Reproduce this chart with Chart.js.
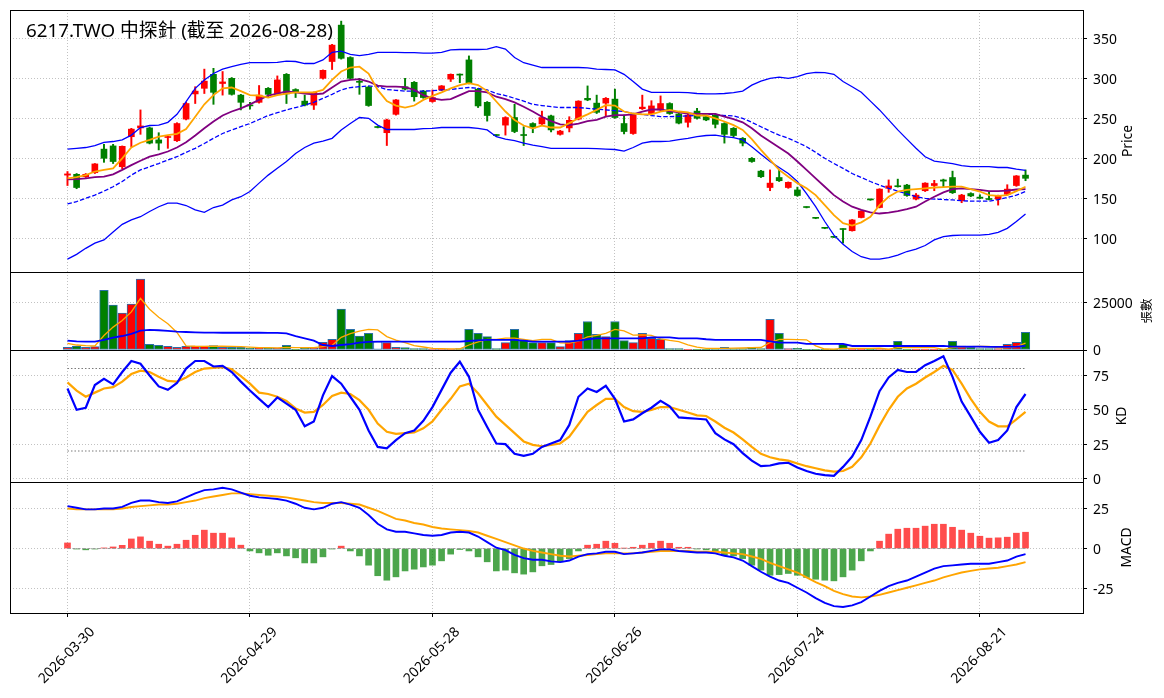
<!DOCTYPE html>
<html><head><meta charset="utf-8">
<script src="https://cdn.jsdelivr.net/npm/chart.js@4.4.1/dist/chart.umd.min.js"></script>
<style>
html,body{margin:0;padding:0;background:#fff;}
#wrap{position:relative;width:1164px;height:698px;background:#fff;}
canvas{position:absolute;left:0;top:0;}
</style></head><body>
<div id="wrap">
<canvas id="cPrice" width="1164" height="698"></canvas>
<canvas id="cVol" width="1164" height="698"></canvas>
<canvas id="cKD" width="1164" height="698"></canvas>
<canvas id="cMACD" width="1164" height="698"></canvas>
</div>
<script>
// ---------------- DATA ----------------
const titleText = '6217.TWO 中探針 (截至 2026-08-28)';
const dates = ['2026-03-30','2026-03-31','2026-04-01','2026-04-02','2026-04-07','2026-04-08','2026-04-09','2026-04-10','2026-04-13','2026-04-14',
'2026-04-15','2026-04-16','2026-04-17','2026-04-20','2026-04-21','2026-04-22','2026-04-23','2026-04-24','2026-04-27','2026-04-28',
'2026-04-29','2026-04-30','2026-05-04','2026-05-05','2026-05-06','2026-05-07','2026-05-08','2026-05-11','2026-05-12','2026-05-13',
'2026-05-14','2026-05-15','2026-05-18','2026-05-19','2026-05-20','2026-05-21','2026-05-22','2026-05-25','2026-05-26','2026-05-27',
'2026-05-28','2026-05-29','2026-06-01','2026-06-02','2026-06-03','2026-06-04','2026-06-05','2026-06-08','2026-06-09','2026-06-10',
'2026-06-11','2026-06-12','2026-06-15','2026-06-16','2026-06-17','2026-06-18','2026-06-22','2026-06-23','2026-06-24','2026-06-25',
'2026-06-26','2026-06-29','2026-06-30','2026-07-01','2026-07-02','2026-07-03','2026-07-06','2026-07-07','2026-07-08','2026-07-09',
'2026-07-10','2026-07-13','2026-07-14','2026-07-15','2026-07-16','2026-07-17','2026-07-20','2026-07-21','2026-07-22','2026-07-23',
'2026-07-24','2026-07-27','2026-07-28','2026-07-29','2026-07-30','2026-07-31','2026-08-03','2026-08-04','2026-08-05','2026-08-06',
'2026-08-07','2026-08-10','2026-08-11','2026-08-12','2026-08-13','2026-08-14','2026-08-17','2026-08-18','2026-08-19','2026-08-20',
'2026-08-21','2026-08-24','2026-08-25','2026-08-26','2026-08-27','2026-08-28'];

const opens = [179,180,177,182,211.5,215.5,189.5,227,238,238,
223,226,222,249,280.5,287.5,305,293.5,300,279,
266.5,270,287.5,281,305,286,271.5,266.5,300,321,
366.5,326,296,289,239.5,232,255,289.5,295,284,
271,285.5,299,305,323,286.5,270,229,241.5,251,
229,243.5,243,253,230,238,249,275,269,269,
274,243.5,231,262,255.5,260.5,268.5,255.5,245,259,
252,254,243.5,237.5,225,200,184,163.5,176,163.5,
160.5,139,125.5,113,101.5,111.5,109.5,126,148.5,138.5,
162.5,165.5,166.5,149,159.5,166,173,176,147,156,
151.5,149,149,155,166,179];
const highs = [183.5,181,181,193.5,217.5,217.5,215.5,237.5,260.5,239,
232,227.5,244.5,270,289.5,311.5,312.5,308.5,301,280,
270,291,288.5,303,306,287,279,283,310.5,342.5,
371.5,327,300,290,240,249,273.5,300,296,285,
285.5,291,305.5,305.5,328,287.5,271,229.5,252,267.5,
239.5,244.5,259,254,235,252,272,290.5,279,276,
286.5,254,255,279,272,278,269.5,256.5,255,262.5,
253,255,244.5,238.5,226,201,185,185.5,185.5,170.5,
164,139.5,126,113.5,102,112,123.5,134.5,149,162,
173,174,167.5,156,169.5,172.5,174,184,155,157,
154.5,158,154,167,178.5,185.5];
const lows = [166,162,176,181,195,193.5,187,214.5,230,218,
210.5,212.5,221,248,268.5,281,267.5,279,279,260.5,
261.5,269,277,280,268.5,276,265.5,261,299,311,
324,299,280,265,238,216,254,285.5,271.5,275,
270,284.5,296,294.5,293,263.5,246.5,228,229,232,
216,232,242,233,229,233,248,272,256,252,
250,230.5,230,261,254.5,259.5,255,243,239,249,
247,238,219,227,215.5,195,176,159.5,171,162.5,
152.5,138,124.5,112,101,94,109,125.5,147.5,138,
157.5,164,152.5,148,158.5,159.5,164.5,156,144.5,152,
149.5,148,141.5,154,165,172];
const closes = [180.5,163.5,180,193,200,196,215,236.5,240.5,219,
219,227,243.5,268.5,284,296.5,282.5,295.5,280,270,
265.5,279,280,298,280.5,282.5,266.5,282.5,310,341.5,
325,300,295,266,238.5,248,273,286.5,277,276,
276,290.5,305,304,294,265.5,253.5,228.5,251,233.5,
228.5,238,251,235.5,234,247.5,271.5,273,257.5,275,
251,233.5,254,264,265.5,268.5,256,244,254,250,
248,242.5,230,228.5,219,196,177,169,172,170,
153.5,138.5,125,112.5,101.25,111,123,134,148,161.5,
165.5,164.5,153.5,154,169,168.5,171.5,157,154,153,
150,148.5,153.5,161.5,178,175];

const ma5 = [175,176.5,179,183.5,185.5,187.5,200,213.5,219.5,223,
227,229,230.5,236.5,252,267.5,279,287.5,288.5,284,
279,278.5,276,279,281,282.5,282.5,282.5,285.5,298,
308.5,313.5,314.5,306,285.5,271.5,266,263.5,266,273,
278,282.5,287.5,291.5,294,291.5,284,271,258.5,248,
241,237.5,241,238.5,238.5,244,250,255,260.5,266.5,
266,258.5,256,255,255,258.5,260.5,258.5,257.5,253.5,
253.5,250,246,241.5,235.5,224,210.5,198,185.5,177,
169,162.5,154,141.5,129,119,116,120,127,141.5,
152,158.5,160.5,161.5,162.5,163.5,164,164.5,164.5,161.5,
158.5,154,153,154,159,164.5];
const ma10 = [173.75,174,175,176.5,177,180,185.5,191.5,197,202,
205,208.5,213.5,220,228.5,237.5,246,253.5,258.5,262.5,
267.5,273,278.5,281,283.5,282.5,281,280,281,288.5,
296,298,299,296,291,289.5,289.5,289,285.5,279,
275,273,274,279,284,284,282.5,277,274,270,
264.5,258.5,252,246.5,242.5,241.5,243.5,246.5,248,252,
254,254,255,258.5,261,261,259,257.5,256,255.5,
255.5,255.5,252,249,245,237.5,228.5,221,213.5,206,
196,185.5,175,164.5,154,146,139.5,135.5,132.5,131,
132,134,136.5,139.5,146,152,157.5,161.5,162.5,161.5,
160.5,159,159,159.5,161,161.5];
const ma20 = [143,146,150,154,159,164.5,171,179,185.5,189.5,
193.5,198,202,207.5,212.5,218.5,225,231,235.5,239.5,
243.5,248.5,253.5,257,260.5,263.5,266.5,270,275,280,
285.5,288.5,289.5,290.5,289.5,286,285,284,284,284,
284.5,285.5,286,287.5,288.5,287.5,285.5,281,278.5,275,
271.5,267.5,266,264.5,263.5,263.5,263.5,262.5,261.5,260.5,
259.5,258.5,256,255,253.5,252,252,252.5,253,253.5,
255,255,253.5,253,250,245,239.5,234,229,225,
220,214.5,207.5,200,193.5,187.5,181,176,171,166.5,
162.5,159,155.5,152,150,149,148.5,148,147,146.5,
146.5,146.5,148.5,151,154,158.5];
const bbUpper = [211.5,212.5,213.5,216,220,221,223,229,238.5,241,
241.5,245,255,271,287.5,298,306,311.5,314.5,317.5,
319.5,319.5,319.5,320,321.5,321,318.5,318.5,323,332.5,
334,330,328.5,330,332.5,332.5,332.5,332,332,331.5,
331.5,332.5,335.5,336,336,336,336.5,339.5,336.5,326,
319.5,316.5,313.5,313.5,313.5,313.5,313.5,313,311.5,311,
310.5,305,296,286.5,282.5,282.5,282.5,282.5,282,281,
280.5,280.5,281,282,284,291.5,296.5,300,301.5,300,
302,306,307.5,307,305,296,289.5,282.5,271.5,260.5,
248,235.5,224,212.5,202,196.5,195,193.5,191,189.5,
189.5,189.5,188.5,188.5,186.5,185];
const bbLower = [74,80,87.5,94,98,108,117.5,123,127,133.5,
139.5,144,144,141,135.5,132.5,138.5,141.5,148,152,
158.5,169,179,187.5,196,206,213.5,219,221.5,225,
235.5,243.5,251,250,241.5,236,236,236,236,237,
237.5,238.5,238.5,238.5,238.5,237.5,235.5,227,224,222,
219,216.5,214.5,212.5,212.5,212.5,212.5,212.5,212,211.5,
211,209,213.5,219,221,221,221.5,223.5,225,227,
228.5,229,227,226,223,214.5,205,196,188.5,181,
171,156,139.5,121,104,92.5,83.5,77,74,74,
76,79,83.5,86.5,91,98,102,103.5,104,104,
104,105,107.5,112.5,121,130.5];

const volumes = [1400,2100,1400,1750,31100,23400,19200,23900,37000,3000,
2450,1900,1400,1900,2100,2100,2270,1400,1400,1400,
1050,1200,1050,1050,2450,350,1050,1050,4000,5600,
21300,10800,7300,8700,4350,3850,1400,1200,700,700,
520,520,520,700,10800,8700,7000,700,3850,10800,
5240,3850,3850,3850,1750,4900,8700,14850,8200,7000,
14850,4900,3850,8700,6100,5600,700,700,175,175,
350,700,1400,700,700,1400,700,16000,8700,700,
870,350,350,350,350,3000,350,350,350,520,
520,4540,350,350,350,350,350,4540,2100,1400,
700,700,700,3000,4000,9260];
const volFlatDays = [34];
const volMa5 = [3500,2600,2270,2100,7550,11950,15370,19870,26920,21300,
17110,13650,9150,2130,1950,1880,1950,1950,1850,1710,
1500,1290,1220,1150,1360,1220,1190,1190,1780,2410,
6600,8550,9800,10740,10490,7000,5120,3900,2300,1570,
900,730,590,590,2610,4250,5540,5580,6210,6210,
5520,4890,5520,5520,3710,3640,4610,6810,7680,8730,
10720,9960,7760,7860,7680,5830,4990,4360,2660,1470,
800,800,900,950,1050,1200,1300,3900,5500,5500,
5390,5320,2190,520,450,880,880,880,880,910,
420,1260,1260,1260,1220,1190,350,1190,1540,1750,
1820,1890,1120,1300,1820,3530];
const volMa20 = [4900,4540,4400,4400,5240,6500,7300,8400,10100,10500,
10300,9960,9600,9400,9200,9100,9100,9000,9000,9000,
9000,9000,8900,8900,8700,7300,6100,4900,2600,2100,
2600,3100,3800,4200,4400,4400,4400,4400,4400,4400,
4400,4400,4400,4400,4700,5070,5240,5240,5240,5240,
4900,4400,4400,4400,4400,4400,4900,5600,6100,6100,
6100,6100,6100,6100,6600,6600,6600,6100,6100,6100,
5600,5240,5240,5240,5240,5240,5240,4540,3850,3850,
3850,3150,3150,3150,3150,3150,2100,2100,2100,2100,
2100,2100,2100,2100,2100,2100,2100,1750,1750,1750,
1750,1600,1600,1600,1750,2100];

const kValues = [65.5,50,51.5,68,72.5,68.5,77.5,85.5,83.5,75,
67,64.5,69.5,80,85.5,85.5,81.5,82,77.5,70.5,
64,58,52,59,54.5,50,38,41.5,60.5,74.5,
69,59.5,50,35,23,22,28,33,35,42,
52,64.5,77,85,74,50,37.5,25.5,25,18,
16.5,18,23,25.5,28,39,59.5,65.5,63,67.5,
58,41.5,43,47.5,51.5,56.5,52.5,44.5,44,43.5,
43,33,28.5,25,18.5,13,9,9.5,11,11.5,
8,5.5,3.5,2.5,2,8.5,16,28,45,63.5,
73.5,79,77.5,77.5,82.5,85.5,89,74,56,45,
34,26,28,35,52,61.5];
const dValues = [70,64,59.5,62.5,65.5,66.5,70.5,76,78.5,77.5,
74,71,70.5,73.5,77.5,80,80.5,81,79.5,74.5,
69,62.5,61.5,59.5,56.5,51,48,48.5,53.5,60,
62.5,61.5,57,50,40,34,32.5,33,33.5,36.5,
41.5,50,58,67,69,62,53.5,45,39,33,
27,24.5,23.5,24.5,25.5,30.5,39.5,48.5,53.5,58,
58,52,49,48.5,50,52,52,50,48,46,
45.5,41.5,37,33.5,28.5,23,18,15.5,14,13,
11,9,7.5,6,5,5.5,8.5,15.5,25.5,38.5,
50,59.5,65.5,69,73.5,77.5,82,79,69,58,
48.5,41.5,38,38,43,48.5];
const kdLevels = [20, 80];

const difValues = [26.5,25.5,24.5,24.5,25,25,26,28.5,30,30,
29,28.5,29.5,32,34.5,36.5,37,38,37,35,
33,32,31.5,31,30,28,25.5,24.5,25.5,28,
29,27.5,25.5,21,15.5,12,10.5,10.5,9.5,8.5,
8,8.5,10,10.5,10,7.5,4,0.5,-1,-4,
-6,-7,-7,-8,-8.5,-7.5,-5,-3.5,-3,-2,
-2,-3.5,-3,-2.5,-1.5,-0.5,-0.5,-1.5,-2,-2.5,
-2.5,-3,-4.5,-5.5,-7.5,-11,-14.5,-17.5,-20,-21.5,
-24.5,-27.5,-31,-34,-36,-36.5,-35.5,-33.5,-30,-26.5,
-23.5,-21.5,-20,-17.5,-15,-12.5,-11,-10.5,-10,-9.5,
-9.5,-9.5,-8.5,-7.5,-5,-3.5];
const deaValues = [25,24.5,24.5,24.5,24.5,24.5,25,26,26.5,27,
27.5,27.5,28,29,30,31.5,32.5,33.5,34.5,34.5,
34,33.5,33,32.5,32,31,30,29,28.5,28.5,
28.5,28,27.5,25.5,23.5,21,18.5,17.5,16,15,
13.5,12.5,12,11.5,11,10,8,6,4,2,
0,-1.5,-2.5,-3.5,-4.5,-5,-4.5,-4,-3.5,-3,
-3,-3,-3,-2.5,-2,-1.5,-1.5,-1.5,-1.5,-2,
-2,-2,-2.5,-3,-3.5,-5,-6.5,-9,-11,-13,
-15,-18,-21,-23.5,-26.5,-28.5,-30,-30.5,-30,-29,
-27.5,-26,-24.5,-23,-21.5,-20,-18,-16.5,-15,-14,
-13,-12.5,-12,-11,-10,-8.5];
const histValues = [3.5,-0.3,-0.8,-0.3,0.4,1,2,6,7.3,4.6,
2.7,1.5,2.7,5.2,8.3,11.5,9.6,9.6,6.7,2.1,
-1.5,-2.7,-4.2,-2.7,-4.6,-5.8,-9,-9,-5.2,-0.3,
1.5,-1.5,-4.6,-10.4,-17,-19.8,-17.7,-14,-12.9,-11.5,
-10.4,-7.7,-3.5,-0.6,-1.5,-5.2,-8.3,-14,-13.5,-15.2,
-16,-14.6,-10.8,-10,-8.3,-6.3,-1.5,2.1,2.7,4.6,
3.3,0.2,0.8,2.1,3.3,4.6,3.3,0.8,0.8,-0.2,
-0.8,-1.7,-4.2,-4.6,-6.3,-10.4,-13.5,-16.7,-16.3,-15.6,
-16.7,-18.1,-19.2,-19.8,-20.2,-17.7,-13.5,-7.7,-1.5,4.6,
9,12.1,12.7,12.7,14,15.2,15.2,13.3,11.5,9.6,
7.7,6.5,6.7,7.1,9.6,10.2];

const xTickIdx = [0, 20, 40, 60, 80, 100];
const priceTicks = [100, 150, 200, 250, 300, 350];
const volTicks = [0, 25000];
const kdTicks = [0, 25, 50, 75];
const macdTicks = [-25, 0, 25];

// ---------------- STYLE / LAYOUT ----------------
const FONT = "'Noto Sans', 'Noto Sans CJK TC', sans-serif";
const GRID = '#c2c2c2';
const X_MIN = -6.3, X_MAX = 111.3;
const AXIS_W = 81;
const UP = '#ff0000', DOWN = '#008000';
const last = dates.length - 1;

function pts(arr){ return arr.map((v,i)=>({x:i, y:v})); }
function levelPts(v){ return [{x:0, y:v}, {x:last, y:v}]; }

function xAxis(bottom){
  return {
    type:'linear', min:X_MIN, max:X_MAX, offset:false,
    afterBuildTicks: s => { s.ticks = xTickIdx.map(v=>({value:v})); },
    grid:{ color:GRID, lineWidth:1, offset:false, drawTicks:bottom, tickLength:4, tickColor:'#000', tickWidth:1, tickBorderDash:[] },
    border:{ display:false, dash:[1,2] },
    ticks:{ display:bottom, autoSkip:false, minRotation:45, maxRotation:45, padding:7, labelOffset:25,
            color:'#000', font:{family:FONT, size:13.9}, callback: v => dates[v] },
    afterFit: s => { s.height = bottom ? 85 : 0; s.paddingLeft = 0; s.paddingRight = 0; s.paddingTop = 0; s.paddingBottom = 0; }
  };
}
function yAxis(min, max, ticks){
  return {
    type:'linear', position:'right', min, max, beginAtZero:false,
    afterBuildTicks: s => { s.ticks = ticks.map(v=>({value:v})); },
    grid:{ color:GRID, lineWidth:1, drawTicks:true, tickLength:4, tickColor:'#000', tickWidth:1, tickBorderDash:[] },
    border:{ display:false, dash:[1,2] },
    ticks:{ padding:6, labelOffset:1.5, color:'#000', font:{family:FONT, size:13.9}, callback: v => String(v) },
    afterFit: s => { s.width = AXIS_W; s.paddingTop = 0; s.paddingBottom = 0; }
  };
}

const panelPlugin = {
  id:'panel',
  afterDatasetsDraw(chart, args, opts){
    const {ctx, chartArea:a} = chart;
    ctx.save();
    ctx.strokeStyle = '#000'; ctx.lineWidth = 1;
    const l = Math.floor(a.left)+0.5, t = Math.floor(a.top)+0.5, r = Math.floor(a.right)+0.5, b = Math.floor(a.bottom)+0.5;
    ctx.strokeRect(l, t, r-l, b-t);
    ctx.restore();
  },
  afterDraw(chart, args, opts){
    const {ctx, chartArea:a} = chart;
    ctx.save();
    ctx.fillStyle = '#000';
    ctx.font = opts.size + 'px ' + FONT;
    ctx.translate(opts.x, (a.top + a.bottom)/2);
    ctx.rotate(-Math.PI/2);
    ctx.textAlign = 'center'; ctx.textBaseline = 'middle';
    ctx.fillText(opts.label, 0, 0);
    ctx.restore();
    if (opts.title){
      ctx.save();
      ctx.fillStyle = '#000';
      ctx.font = '18.8px ' + FONT;
      ctx.textAlign = 'left'; ctx.textBaseline = 'alphabetic';
      ctx.fillText(titleText, 26, 37);
      ctx.restore();
    }
  }
};

function baseOptions(padTop, padBottom, yCfg, bottom, panelOpts){
  return {
    responsive:false, animation:false, devicePixelRatio:1,
    layout:{ padding:{ left:10, right:0, top:padTop, bottom:padBottom }, autoPadding:false },
    plugins:{ legend:{display:false}, tooltip:{enabled:false}, title:{display:false}, panel:panelOpts },
    scales:{ x:xAxis(bottom), y:yCfg },
    events:[]
  };
}
function line(data, color, width, extra){
  return Object.assign({ type:'line', data:data, borderColor:color, borderWidth:width, pointRadius:0, fill:false, tension:0 }, extra||{});
}

// ---------------- PRICE ----------------
const candleColors = closes.map((c,i)=> c > opens[i] ? UP : DOWN);
new Chart(document.getElementById('cPrice'), {
  type:'bar',
  data:{ datasets:[
    line(pts(ma5), '#ffa500', 1.8, {order:1}),
    line(pts(ma10), '#800080', 1.8, {order:2}),
    line(pts(ma20), '#0000ff', 1.3, {order:3, borderDash:[4.5,2]}),
    line(pts(bbUpper), '#0000ff', 1.3, {order:4}),
    line(pts(bbLower), '#0000ff', 1.3, {order:4}),
    { type:'bar', data: opens.map((o,i)=>({x:i, y:[o, closes[i]]})), backgroundColor:candleColors,
      barThickness:6, minBarLength:1, grouped:false, borderWidth:0, order:5 },
    { type:'bar', data: lows.map((l,i)=>({x:i, y:[l, highs[i]]})), backgroundColor:candleColors,
      barThickness:1.3, grouped:false, borderWidth:0, order:6 }
  ]},
  options: baseOptions(10, 698-272, yAxis(57.9, 385.4, priceTicks), false, {label:'Price', x:1128, size:13.9, title:true}),
  plugins:[panelPlugin]
});

// ---------------- VOLUME ----------------
const volColors = volumes.map((v,i)=> volFlatDays.includes(i) ? '#ffffff' : (closes[i] > opens[i] ? UP : DOWN));
new Chart(document.getElementById('cVol'), {
  type:'bar',
  data:{ datasets:[
    line(pts(volMa20), '#0000ff', 1.8, {order:1}),
    line(pts(volMa5), '#ffa500', 1.3, {order:2}),
    { type:'bar', data: pts(volumes), backgroundColor:volColors, borderColor:'#2a6fa8', borderWidth:1,
      borderSkipped:false, barThickness:8.6, grouped:false, order:5 }
  ]},
  options: baseOptions(272, 698-350, yAxis(0, 40700, volTicks), false, {label:'張數', x:1147, size:12.5}),
  plugins:[panelPlugin]
});

// ---------------- KD ----------------
new Chart(document.getElementById('cKD'), {
  type:'line',
  data:{ datasets:[
    line(pts(kValues), '#0000ff', 2.2, {order:1}),
    line(pts(dValues), '#ffa500', 2.2, {order:2}),
    ...kdLevels.map(v => line(levelPts(v), '#7a7a7a', 1.1, {order:3, borderDash:[1.5,2]}))
  ]},
  options: baseOptions(350, 698-482, yAxis(-2.5, 93.5, kdTicks), false, {label:'KD', x:1122, size:13.9}),
  plugins:[panelPlugin]
});

// ---------------- MACD ----------------
const histColors = histValues.map(v => v >= 0 ? 'rgba(255,0,0,0.7)' : 'rgba(0,128,0,0.7)');
new Chart(document.getElementById('cMACD'), {
  type:'bar',
  data:{ datasets:[
    line(pts(difValues), '#0000ff', 1.9, {order:1}),
    line(pts(deaValues), '#ffa500', 1.9, {order:2}),
    line(levelPts(0), '#9a9a9a', 1, {order:3, borderDash:[3,2]}),
    { type:'bar', data: pts(histValues), backgroundColor:histColors, barThickness:6, grouped:false, borderWidth:0, order:5 }
  ]},
  options: baseOptions(482, 0, yAxis(-40.3, 41.6, macdTicks), true, {label:'MACD', x:1127, size:13.9}),
  plugins:[panelPlugin]
});
</script>
</body></html>
